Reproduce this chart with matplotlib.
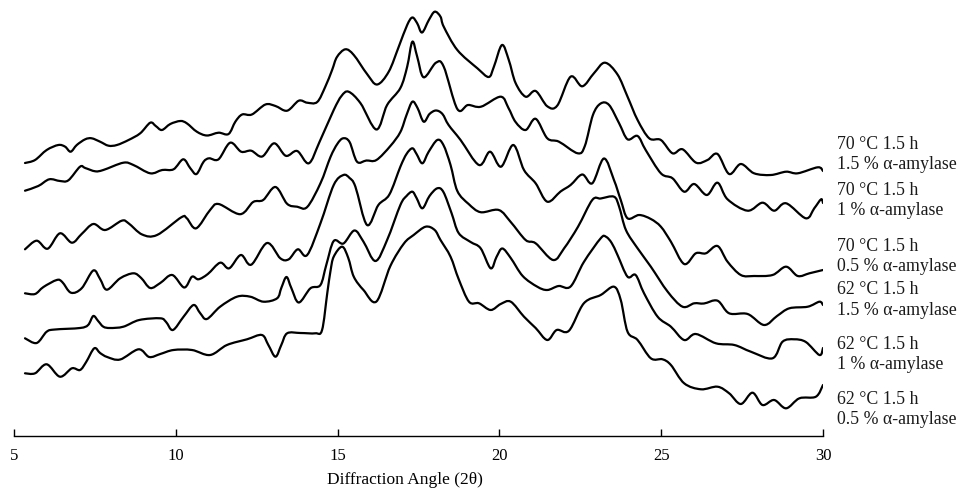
import matplotlib
matplotlib.use('Agg')
import matplotlib.pyplot as plt
from matplotlib.path import Path
import matplotlib.patches as patches

plt.rcParams['font.family'] = ['Liberation Serif', 'DejaVu Serif']

# stacked XRD patterns, intensity in a.u. (already offset as plotted)
ang_70_15 = [5.34, 5.65, 6.01, 6.37, 6.58, 6.75, 6.94, 7.20, 7.40, 7.66, 7.92, 8.18, 8.54, 8.90,
             9.21, 9.38, 9.57, 9.83, 10.14, 10.34, 10.65, 10.96, 11.32, 11.63, 11.84, 12.05, 12.35,
             12.77, 13.08, 13.44, 13.80, 14.06, 14.37, 14.62, 14.83, 14.98, 15.24, 15.50, 15.91,
             16.22, 16.58, 16.89, 17.15, 17.31, 17.46, 17.61, 17.82, 18.00, 18.18, 18.28, 18.70,
             19.32, 19.67, 19.83, 20.08, 20.29, 20.50, 20.81, 21.12, 21.48, 21.79, 22.20, 22.56,
             22.92, 23.26, 23.65, 23.96, 24.27, 24.63, 24.99, 25.35, 25.66, 26.08, 26.43, 26.74,
             27.10, 27.46, 27.87, 28.39, 28.86, 29.22, 29.84, 30.0]
int_70_15 = [273, 276, 286, 291, 289.3, 284.3, 291, 296.7, 297.7, 294.3, 290.3, 291, 296, 302.7,
             313.3, 310, 306, 312, 315, 312.7, 304.3, 300.5, 303.3, 302, 314.3, 321.5, 321.5,
             331.5, 330, 325.3, 335.3, 333.3, 334, 349.3, 366, 379, 386.7, 381, 362,
             351.5, 364.3, 389.3, 411, 418.5, 412.7, 403.5, 416, 424.3, 419.3, 409.3, 386,
             367.7, 359, 369.3, 391, 376, 353, 339.3, 345, 329.7, 330.5, 359.3, 349.7,
             362.7, 373.3, 361.5, 339.3, 316, 297.7, 296, 282.7, 286.7, 273.3, 276, 282,
             262, 272, 262.7, 261, 264.3, 262.7, 268.7, 265]

ang_70_10 = [5.34, 5.75, 6.09, 6.42, 6.68, 7.04, 7.20, 7.51, 7.76, 8.38, 8.69, 9.21, 9.58, 9.93,
             10.23, 10.45, 10.64, 10.86, 11.03, 11.32, 11.68, 12.02, 12.33, 12.67, 13.04, 13.40,
             13.75, 14.11, 14.44, 14.88, 15.12, 15.34, 15.71, 16.20, 16.53, 16.94, 17.15, 17.31,
             17.46, 17.66, 18.04, 18.28, 18.70, 19.03, 19.43, 20.04, 20.28, 20.50, 20.81, 21.12,
             21.48, 21.84, 22.42, 22.64, 22.89, 23.13, 23.39, 23.70, 23.96, 24.27, 24.52, 24.99,
             25.35, 25.71, 26.02, 26.41, 26.74, 27.05, 27.67, 28.13, 28.49, 28.86, 29.47, 29.73,
             29.94, 30.0]
int_70_10 = [245.3, 250, 256.7, 255, 255.7, 269.3, 268, 264.7, 266, 273.3, 271, 262.7, 266, 266.7,
             276.7, 267.7, 262, 274.3, 277.7, 276.7, 293.3, 284.3, 285.3, 279.5, 292.7, 280.2,
             285, 272.7, 294, 326, 340, 344.3, 332.7, 306.5, 331, 348, 369.3, 394.3,
             379.3, 358.7, 373.3, 369.3, 327, 331, 329.3, 339.3, 328, 314, 306, 317.2,
             297.7, 294.3, 282.7, 290, 321, 332.5, 331, 312.7, 296.7, 300, 286, 262.7,
             257.7, 244.3, 252, 241, 253.3, 236.7, 225.3, 233.3, 225.3, 232.7, 217.7, 227.7,
             236.7, 233]

ang_70_05 = [5.34, 5.70, 6.04, 6.42, 6.79, 7.09, 7.45, 7.82, 8.33, 8.54, 8.96, 9.42, 10.17, 10.34,
             10.63, 11.06, 11.32, 11.99, 12.39, 12.70, 13.08, 13.44, 13.75, 14.06, 14.47, 14.78,
             14.99, 15.17, 15.37, 15.60, 15.89, 16.20, 16.63, 16.94, 17.13, 17.31, 17.47, 17.66,
             17.84, 18.04, 18.24, 18.43, 18.80, 19.37, 19.71, 20.05, 20.43, 20.76, 21.12, 21.48,
             21.89, 22.20, 22.56, 22.87, 23.23, 23.54, 23.75, 23.96, 24.32, 24.68, 24.99, 25.30,
             25.71, 26.07, 26.38, 26.74, 27.05, 27.46, 27.87, 28.44, 28.86, 29.22, 29.58, 30.0]
int_70_05 = [186.7, 195.3, 187.3, 202.7, 193.3, 202, 212, 206, 215.3, 212.7, 201.5, 201, 218.7, 217.7,
             207.7, 226, 232, 221.8, 234, 236, 249, 232.2, 229.3, 229, 252.7, 279,
             292, 297.7, 294, 274.3, 275.5, 276, 290, 304, 321, 334.3, 328, 314.3,
             322, 325.5, 322, 311, 296, 271, 284.3, 269.3, 291, 266, 252.7, 234.3,
             244.5, 251, 261.5, 252.7, 277.5, 256, 236, 217.7, 221, 217, 209.3, 194.3,
             172, 182.7, 182.7, 190, 174.3, 161, 160, 161, 169.3, 160, 162.7, 166]

ang_62_15 = [5.34, 5.65, 5.91, 6.32, 6.49, 6.76, 7.09, 7.45, 7.66, 7.87, 8.28, 8.69, 8.93, 9.21,
             9.52, 9.89, 10.26, 10.50, 10.70, 10.99, 11.37, 11.65, 12.01, 12.33, 12.82, 13.23,
             13.49, 13.77, 14.06, 14.47, 14.88, 15.18, 15.37, 15.55, 15.91, 16.26, 16.60, 16.94,
             17.13, 17.31, 17.44, 17.62, 17.81, 18.08, 18.27, 18.49, 18.70, 19.05, 19.42, 19.98,
             20.35, 20.81, 21.12, 21.66, 22.00, 22.43, 22.87, 23.13, 23.54, 23.70, 23.91, 24.27,
             24.68, 25.20, 25.66, 26.02, 26.32, 26.74, 27.10, 27.67, 28.18, 28.58, 28.96, 29.53,
             29.89, 30.0]
int_62_15 = [142.7, 142, 149, 156, 154, 143.3, 147.7, 165.5, 157, 146.3, 157.7, 162.7, 158, 148,
             153, 161, 148.5, 159.3, 156.7, 162, 173.3, 167.7, 181, 171.3, 193, 177.7,
             176.7, 186.7, 181, 212.7, 251, 261, 258, 249.3, 211, 231, 241.5, 269.3,
             282, 287.7, 282, 272.7, 284, 296, 291, 271, 245, 232, 223.8, 226,
             214, 196, 192.7, 176, 187.7, 209.3, 236, 237.5, 239.3, 229.3, 206, 187.7,
             169.3, 144.3, 129.3, 132.7, 132.5, 135.3, 122.7, 122, 111, 120, 127.7, 129.3,
             134.3, 131]

ang_62_10 = [5.34, 5.70, 6.01, 6.27, 7.04, 7.29, 7.45, 7.60, 7.76, 7.97, 8.38, 8.87, 9.52, 9.70,
             9.91, 10.24, 10.55, 10.75, 10.96, 11.37, 11.89, 12.30, 12.71, 13.13, 13.26, 13.42,
             13.57, 13.80, 14.16, 14.47, 14.65, 14.88, 15.18, 15.52, 15.80, 16.17, 16.53, 16.94,
             17.13, 17.31, 17.44, 17.62, 17.84, 18.08, 18.27, 18.52, 18.74, 19.11, 19.42, 19.73,
             19.91, 20.09, 20.35, 20.72, 21.17, 21.48, 21.83, 22.20, 22.61, 23.13, 23.29, 23.47,
             23.65, 23.96, 24.21, 24.47, 24.89, 25.30, 25.71, 26.07, 26.69, 27.26, 27.77, 28.44,
             28.75, 29.11, 29.47, 29.89, 30.0]
int_62_10 = [97.7, 93, 104.3, 106.5, 108, 111, 120, 115, 109.3, 108, 109.3, 116, 117.7, 114,
             106, 119.3, 131, 123, 117, 129.3, 139.3, 139.3, 134.3, 137.7, 148, 159,
             148, 133.5, 147.7, 151, 171, 195, 192.5, 205.5, 194.3, 175, 196, 231,
             240, 244.3, 238, 227.7, 240, 247.7, 244, 223, 203, 194, 187.7, 167.7,
             179, 187.5, 178, 160, 149.3, 146, 150, 149.5, 174, 197.7, 199.3, 193,
             181, 159.3, 161, 142.7, 119.3, 109.3, 96, 102, 92.7, 91, 84.3, 77.7,
             94.3, 96.7, 94, 81, 88]

ang_62_05 = [5.34, 5.65, 6.01, 6.42, 6.79, 7.04, 7.23, 7.48, 7.66, 7.88, 8.28, 8.85, 9.18, 9.52,
             9.93, 10.50, 11.06, 11.58, 12.20, 12.66, 12.86, 13.08, 13.26, 13.44, 13.85, 14.31,
             14.52, 14.68, 14.78, 14.88, 15.14, 15.33, 15.50, 15.80, 16.20, 16.63, 17.05, 17.35,
             17.72, 18.00, 18.18, 18.49, 18.74, 19.06, 19.37, 19.73, 20.04, 20.35, 20.76, 21.12,
             21.48, 21.77, 22.15, 22.61, 23.13, 23.54, 23.75, 23.96, 24.27, 24.68, 25.04, 25.30,
             25.71, 26.23, 26.74, 27.10, 27.46, 27.82, 28.13, 28.49, 28.86, 29.27, 29.78, 30.0]
int_62_05 = [62.7, 62.7, 71.7, 59.3, 67.7, 66, 74, 87.7, 83, 79, 76.5, 86.7, 79, 82,
             86, 86, 81, 91, 96.7, 101, 91, 79.3, 91, 102.7, 103, 102.7,
             106, 142.7, 165, 179.3, 189.3, 178, 159.3, 146, 134.5, 170, 192.5, 201,
             209.3, 206, 196, 179.3, 157, 134.3, 132.7, 126, 132, 134.3, 119.3, 108,
             96, 106, 105.3, 132.7, 141, 149.3, 136, 104.3, 96, 77.7, 76.7, 71,
             52.7, 46.7, 49.3, 42.7, 32, 43.3, 31, 36, 27.7, 37.7, 39.3, 51]

labels = ['70 \u00b0C 1.5 h\n1.5 % \u03b1-amylase',
          '70 \u00b0C 1.5 h\n1 % \u03b1-amylase',
          '70 \u00b0C 1.5 h\n0.5 % \u03b1-amylase',
          '62 \u00b0C 1.5 h\n1.5 % \u03b1-amylase',
          '62 \u00b0C 1.5 h\n1 % \u03b1-amylase',
          '62 \u00b0C 1.5 h\n0.5 % \u03b1-amylase']
label_y = [281.5, 235.5, 179.5, 136, 81.5, 26.5]

angles = [ang_70_15, ang_70_10, ang_70_05, ang_62_15, ang_62_10, ang_62_05]
intens = [int_70_15, int_70_10, int_70_05, int_62_15, int_62_10, int_62_05]


def smooth_path(x, y):
    # smoothed line through the points (bezier, like a spreadsheet "smoothed line")
    n = len(x)
    verts = [(x[0], y[0])]
    codes = [Path.MOVETO]
    for k in range(n - 1):
        x0, y0 = x[max(k - 1, 0)], y[max(k - 1, 0)]
        x1, y1 = x[k], y[k]
        x2, y2 = x[k + 1], y[k + 1]
        x3, y3 = x[min(k + 2, n - 1)], y[min(k + 2, n - 1)]
        verts.append((x1 + (x2 - x0) / 6.0, y1 + (y2 - y0) / 6.0))
        verts.append((x2 - (x3 - x1) / 6.0, y2 - (y3 - y1) / 6.0))
        verts.append((x2, y2))
        codes += [Path.CURVE4] * 3
    return Path(verts, codes)


fig = plt.figure(figsize=(9.58, 4.92), dpi=100)
ax = fig.add_axes([14/958, 56/492, 809/958, 436/492])

for a, i in zip(angles, intens):
    patch = patches.PathPatch(smooth_path(a, i), facecolor='none', edgecolor='black',
                              lw=1.6, joinstyle='round', capstyle='round')
    ax.add_patch(patch)

for lab, y in zip(labels, label_y):
    ax.text(30.43, y, lab, fontsize=12.8, va='center', ha='left', linespacing=1.3,
            clip_on=False, color='#1a1a1a')

ax.set_xlim(5, 30)
ax.set_ylim(0, 436)
ax.set_xticks([5, 10, 15, 20, 25, 30])
ax.set_yticks([])
for s in ['left', 'right', 'top']:
    ax.spines[s].set_visible(False)
ax.spines['bottom'].set_linewidth(1.0)
ax.tick_params(axis='x', direction='in', length=5, width=1, pad=9, labelsize=12)
ax.set_xlabel('Diffraction Angle (2\u03b8)', fontsize=12.5)
ax.xaxis.set_label_coords(0.483, -0.083)

fig.savefig('out.png', dpi=100)
